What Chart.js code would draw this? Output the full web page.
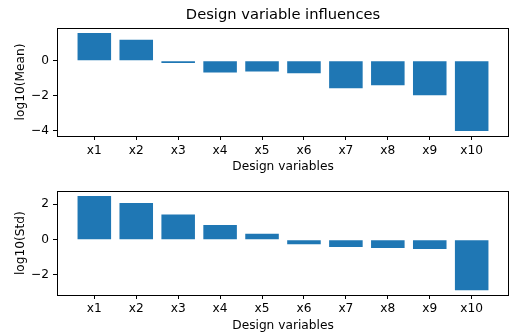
<!DOCTYPE html>
<html>
<head>
<meta charset="utf-8">
<script src="https://cdn.jsdelivr.net/npm/chart.js@4"></script>
<style>
  html, body { margin: 0; padding: 0; background: #fff; }
  #wrap { position: relative; width: 510px; height: 336px; }
  canvas { position: absolute; left: 0; }
</style>
</head>
<body>
<div id="wrap">
  <canvas id="meanChart" width="510" height="180" style="top:0"></canvas>
  <canvas id="stdChart" width="510" height="156" style="top:180px"></canvas>
</div>
<script>
const variables = ['x1', 'x2', 'x3', 'x4', 'x5', 'x6', 'x7', 'x8', 'x9', 'x10'];
const logMean = [1.60, 1.20, -0.13, -0.67, -0.61, -0.72, -1.58, -1.41, -1.98, -4.04];
const logStd = [2.47, 2.07, 1.43, 0.83, 0.34, -0.26, -0.42, -0.47, -0.53, -2.87];
const meanTicks = [-4, -2, 0];
const stdTicks = [-2, 0, 2];

const FONT = 'DejaVu Sans';
const BAR_COLOR = '#1f77b4';
const LABEL_SIZE = 12.2;

// closed box around the plot area, plus a title centred over it
const frame = {
  id: 'frame',
  afterDraw(chart) {
    const { ctx, chartArea: a } = chart;
    ctx.save();
    ctx.strokeStyle = '#000';
    ctx.lineWidth = 1;
    ctx.strokeRect(Math.round(a.left) + 0.5, Math.round(a.top) + 0.5,
      Math.round(a.right - a.left) - 1, Math.round(a.bottom - a.top));
    const text = chart.options.plugins.frame.title;
    if (text) {
      ctx.fillStyle = '#000';
      ctx.font = '14.7px "' + FONT + '"';
      ctx.textAlign = 'center';
      ctx.textBaseline = 'middle';
      ctx.fillText(text, (a.left + a.right) / 2, 15);
    }
    ctx.restore();
  }
};

// axis limits with 5% headroom on both ends
function limits(values) {
  const lo = Math.min(0, ...values), hi = Math.max(0, ...values);
  const pad = (hi - lo) * 0.05;
  return [lo - pad, hi + pad];
}

function makeChart(id, values, yTicks, yLabel, opts) {
  const [ymin, ymax] = limits(values);
  const xpad = (values.length - 1 + 0.8) * 0.05;
  const tickGrid = { display: true, drawOnChartArea: false, drawTicks: true, tickLength: 4, color: '#000', offset: false };
  return new Chart(document.getElementById(id), {
    type: 'bar',
    data: {
      datasets: [{
        data: values.map((v, i) => ({ x: i, y: v })),
        backgroundColor: BAR_COLOR,
        borderWidth: 0,
        barPercentage: 0.8,
        categoryPercentage: 1
      }]
    },
    plugins: [frame],
    options: {
      responsive: false,
      devicePixelRatio: 1,
      animation: false,
      layout: { padding: { top: opts.top, right: 1, left: 0, bottom: 0 } },
      plugins: {
        legend: { display: false },
        tooltip: { enabled: false },
        frame: { title: opts.title }
      },
      scales: {
        x: {
          type: 'linear',
          offset: false,
          min: -0.4 - xpad,
          max: values.length - 1 + 0.4 + xpad,
          afterBuildTicks: s => { s.ticks = variables.map((_, i) => ({ value: i })); },
          afterFit: s => { s.height = opts.xHeight; },
          grid: tickGrid,
          border: { display: false },
          ticks: {
            color: '#000',
            font: { family: FONT, size: LABEL_SIZE },
            padding: opts.xTickPad,
            maxRotation: 0,
            autoSkip: false,
            callback: v => variables[v]
          },
          title: {
            display: true,
            text: 'Design variables',
            color: '#000',
            font: { family: FONT, size: LABEL_SIZE },
            padding: { top: 0, bottom: opts.xTitlePad }
          }
        },
        y: {
          min: ymin,
          max: ymax,
          afterBuildTicks: s => { s.ticks = yTicks.map(v => ({ value: v })); },
          afterFit: s => { s.width = 57; },
          grid: tickGrid,
          border: { display: false },
          ticks: {
            color: '#000',
            font: { family: FONT, size: LABEL_SIZE },
            padding: 4,
            callback: v => String(v).replace('-', '\u2212')
          },
          title: {
            display: true,
            text: yLabel,
            color: '#000',
            font: { family: FONT, size: LABEL_SIZE },
            padding: { top: 14, bottom: 0 }
          }
        }
      }
    }
  });
}

makeChart('meanChart', logMean, meanTicks, 'log10(Mean)',
  { title: 'Design variable influences', top: 28, xHeight: 44, xTickPad: 4, xTitlePad: 6 });
makeChart('stdChart', logStd, stdTicks, 'log10(Std)',
  { top: 7, xHeight: 41, xTickPad: 3, xTitlePad: 3 });
</script>
</body>
</html>
